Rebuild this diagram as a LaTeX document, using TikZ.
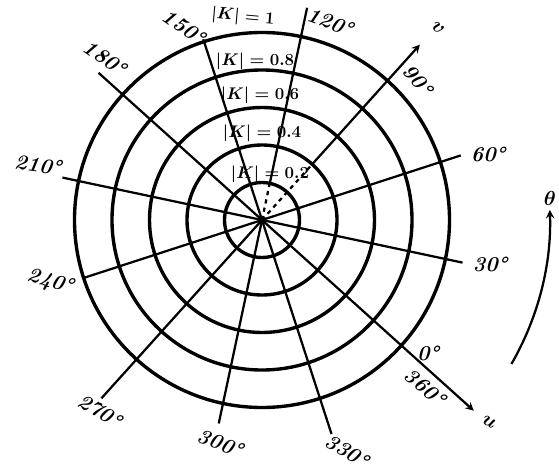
\documentclass[tikz,border=0pt]{standalone}
\usepackage{amsmath,amssymb}
\usepackage{tikz}

\begin{document}
\begin{tikzpicture}[x=0.025cm,y=0.025cm,
    ring/.style={line width=2.4pt},
    spoke/.style={line width=1.6pt},
    deg/.style={inner sep=0.5pt,font=\fontsize{15}{17}\selectfont\bfseries\itshape},
    modk/.style={inner sep=0.5pt,font=\fontsize{12}{14}\selectfont\bfseries}]
    \useasboundingbox (-262,-255) rectangle (297,220);
    \coordinate (O) at (0,0);
    % circles |K| = const
    \draw[ring] (O) circle (37.5);
    \draw[ring] (O) circle (75);
    \draw[ring] (O) circle (112.5);
    \draw[ring] (O) circle (150);
    \draw[ring] (O) circle (187.5);
    % ends of the spokes
    \coordinate (E0)   at (-42:285);
    \coordinate (E30)  at (-12:205);
    \coordinate (E60)  at (18:209);
    \coordinate (E90)  at (48:236);
    \coordinate (D90)  at (48:75);
    \coordinate (E120) at (78:217);
    \coordinate (D120) at (78:37.5);
    \coordinate (E150) at (108:190);
    \coordinate (E180) at (138:220);
    \coordinate (E210) at (168:204);
    \coordinate (E240) at (198:188);
    \coordinate (E270) at (228:240);
    \coordinate (E300) at (258:208);
    \coordinate (E330) at (288:225);
    % spokes, argument of K
    \draw[spoke,-stealth] (O) -- (E0);
    \draw[spoke] (O) -- (E30);
    \draw[spoke] (O) -- (E60);
    \draw[spoke,dashed] (O) -- (D90);
    \draw[spoke,-stealth] (D90) -- (E90);
    \draw[spoke,dashed] (O) -- (D120);
    \draw[spoke] (D120) -- (E120);
    \draw[spoke] (O) -- (E150);
    \draw[spoke] (O) -- (E180);
    \draw[spoke] (O) -- (E210);
    \draw[spoke] (O) -- (E240);
    \draw[spoke] (O) -- (E270);
    \draw[spoke] (O) -- (E300);
    \draw[spoke] (O) -- (E330);
    % sense of theta
    \coordinate (T0) at (-30:288);
    \draw[spoke,-stealth] (T0) arc[start angle=-30,end angle=2,radius=288];
    \node[deg] (theta) at (288,22) {\(\boldsymbol{\theta}\)};
    % axes
    \node[deg,rotate=-30] (u) at (227,-202) {\(\boldsymbol{u}\)};
    \node[deg,rotate=-40] (v) at (176,192) {\(\boldsymbol{v}\)};
    % |K| labels
    \node[modk,rotate=-5] (k10) at (-19,203) {\(\boldsymbol{|K|=1}\)};
    \node[modk] (k08) at (-7,159) {\(\boldsymbol{|K|=0.8}\)};
    \node[modk] (k06) at (-2,125) {\(\boldsymbol{|K|=0.6}\)};
    \node[modk] (k04) at (0,87) {\(\boldsymbol{|K|=0.4}\)};
    \node[modk] (k02) at (8,46) {\(\boldsymbol{|K|=0.2}\)};
    % angle labels
    \node[deg] (a0) at (166,-133) {0\textdegree};
    \node[deg,rotate=-40] (a360) at (163,-167) {360\textdegree};
    \node[deg] (a30) at (228,-44) {30\textdegree};
    \node[deg] (a60) at (226,66) {60\textdegree};
    \node[deg,rotate=-50] (a90) at (156,140) {90\textdegree};
    \node[deg,rotate=-20] (a120) at (68,198) {120\textdegree};
    \node[deg,rotate=-35] (a150) at (-78,193) {150\textdegree};
    \node[deg,rotate=-35] (a180) at (-157,162) {180\textdegree};
    \node[deg,rotate=-8] (a210) at (-224,55) {210\textdegree};
    \node[deg,rotate=-15] (a240) at (-212,-62) {240\textdegree};
    \node[deg,rotate=-30] (a270) at (-162,-191) {270\textdegree};
    \node[deg,rotate=-20] (a300) at (-42,-223) {300\textdegree};
    \node[deg,rotate=-30] (a330) at (85,-231) {330\textdegree};
\end{tikzpicture}
\end{document}
